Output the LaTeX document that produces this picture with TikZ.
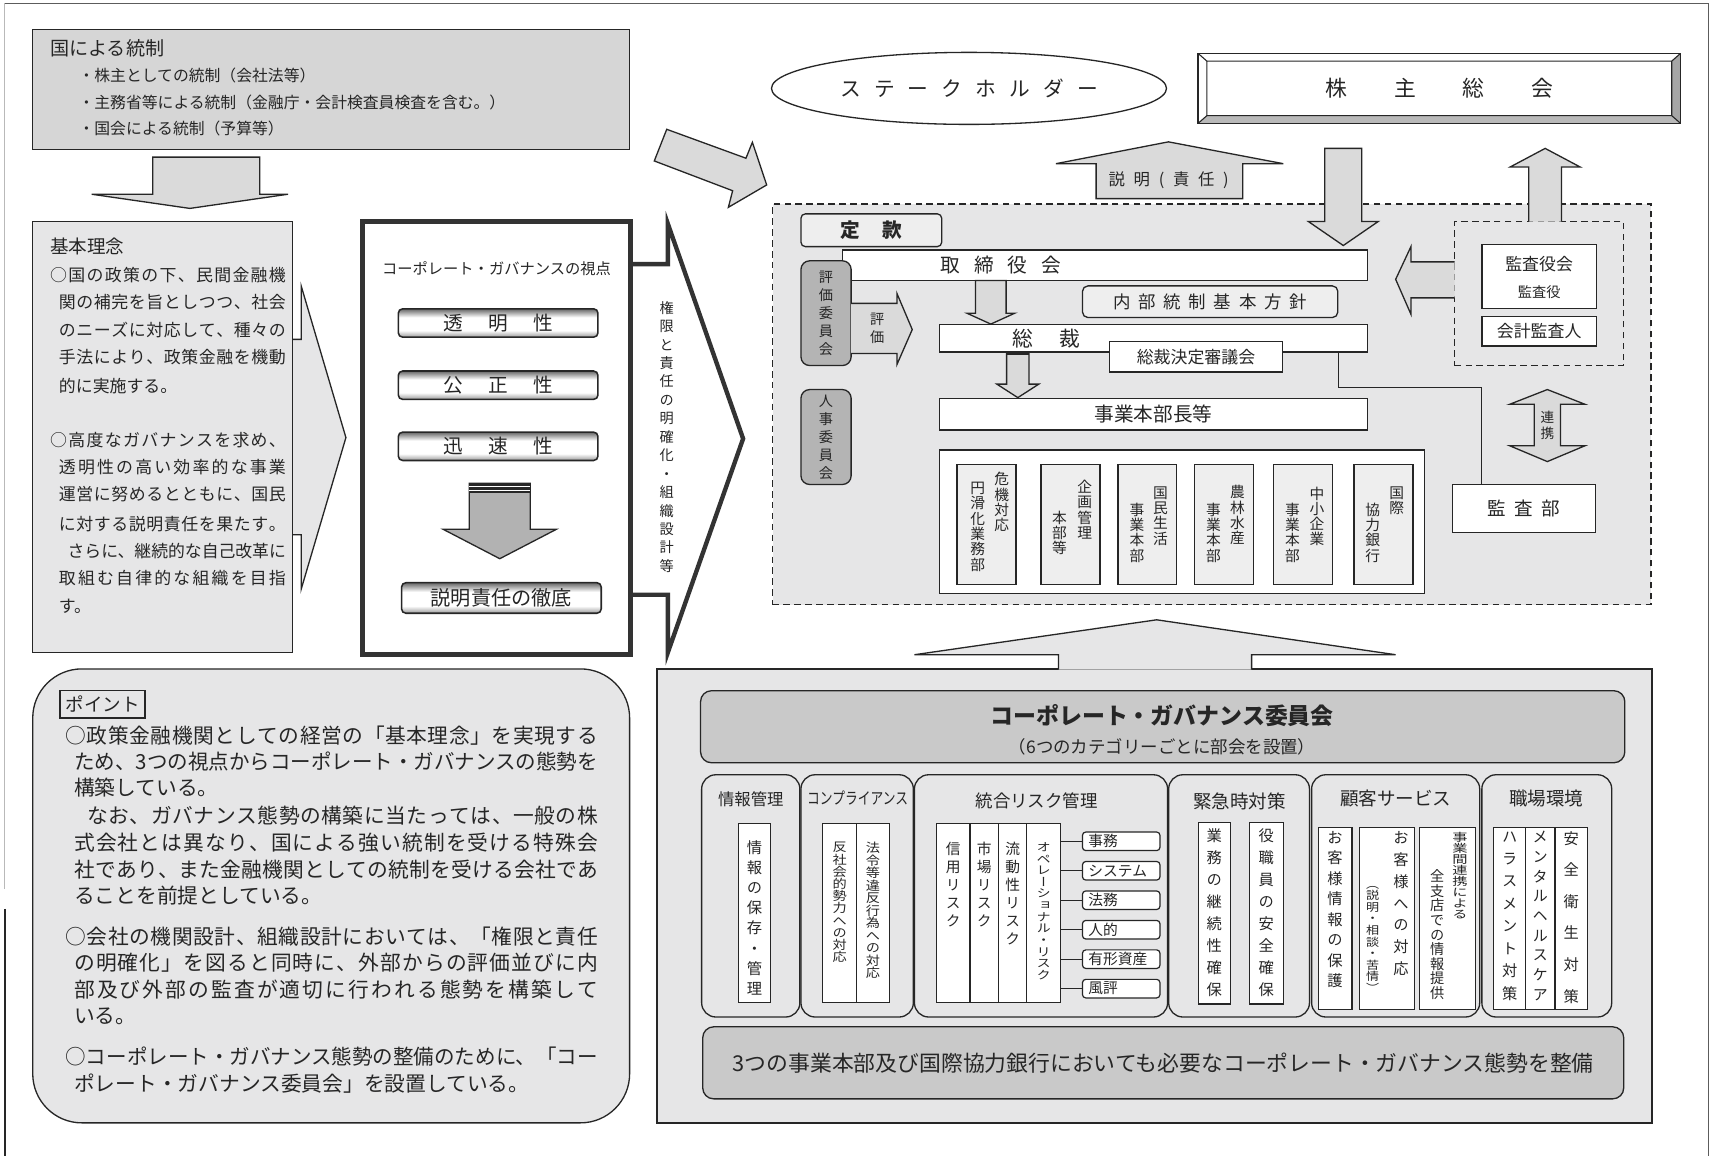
\documentclass[tikz,border=0pt]{standalone}
\usepackage{fontspec}
\setmainfont{Noto Sans CJK JP}
\newfontfamily\jpv[RawFeature=+vert]{Noto Sans CJK JP}
\usetikzlibrary{shapes.geometric}
\definecolor{ln}{HTML}{262626}
\definecolor{gA}{HTML}{D6D6D6}
\definecolor{gB}{HTML}{E6E6E7}
\definecolor{gC}{HTML}{C9C9C9}
\definecolor{gD}{HTML}{B4B4B4}
\definecolor{gE}{HTML}{DADADA}
\definecolor{gF}{HTML}{EEEEEE}
\pgfdeclareverticalshading{btnshade}{100bp}{color(0bp)=(black!40); color(25bp)=(black!40); color(37bp)=(white); color(60bp)=(white); color(75bp)=(black!60); color(100bp)=(black!60)}
\newcommand\fs[1]{\fontsize{#1}{#1}\selectfont}
\makeatletter
\def\Sp@end{}
\newcommand\Sp[2]{\def\Sp@gap{\hskip #1\relax}\Sp@loop#2\Sp@end}
\def\Sp@loop#1#2\Sp@end{#1\ifx\relax#2\relax\expandafter\@gobble\else\Sp@gap\expandafter\Sp@loop\fi#2\Sp@end}
\def\Vt@end{}
\newcommand\Vt[2]{\vbox{\baselineskip=#1\relax\lineskip=0pt\lineskiplimit=-100pt\jpv\Vt@loop#2\Vt@end}}
\def\Vt@loop#1#2\Vt@end{\hbox to 2em{\hss#1\hss}\ifx\relax#2\relax\expandafter\@gobble\else\expandafter\Vt@loop\fi#2\Vt@end}
\makeatother
\newsavebox\JlBox
\newcommand\Jl[2]{\sbox\JlBox{#2}\ifdim\wd\JlBox>#1\relax\resizebox{#1}{\height}{\usebox\JlBox}\else\makebox[#1][s]{\Sp{0pt plus 1fil}{#2}}\fi}
\newcommand\Bx[7]{\node[#1, minimum width={(#5)-(#3)}, minimum height={(#6)-(#4)}] (#2) at ({((#3)+(#5))/2},{((#4)+(#6))/2}) {#7};}
\newcommand\Ln[5]{\node[anchor=west, font=\fs{#4}] (#1) at (#2,#3) {#5};}
\newcommand\Vn[6]{\node[anchor=north, font=\fs{#4}] (#1) at (#2,#3) {\Vt{#5}{#6}};}
\begin{document}
\begin{tikzpicture}[x=1pt,y=-1pt,
  every node/.style={inner sep=0pt, outer sep=0pt, text=ln},
  bx/.style={draw=ln, line width=1.2pt, fill=white},
  arw/.style={draw=ln, line width=1.2pt, fill=gE, line join=miter},
  catbx/.style={draw=ln, line width=1.2pt, fill=gB, rounded corners=13pt},
  colbx/.style={draw=ln, line width=1.1pt, fill=white},
  riskbx/.style={draw=ln, line width=1.1pt, fill=white, rounded corners=3pt},
  btn/.style={draw=ln, line width=1.4pt, rounded corners=4pt, shading=btnshade},
  dsh/.style={draw=ln, line width=1.2pt, dash pattern=on 6pt off 4pt},
  sidebx/.style={draw=ln, line width=1.2pt, fill=gD, rounded corners=8pt},
  orgcol/.style={draw=ln, line width=1.1pt, fill=gF}]
\fill[white] (0,0) rectangle (1568,1059);
\useasboundingbox (0,0) rectangle (1568,1059);
% frame
\draw[gray!55, line width=0.8pt] (4.5,3) -- (4.5,815);
\draw[ln, line width=1.1pt] (4.5,833) -- (4.5,1059);
\draw[ln!75, line width=1pt] (4.5,3) -- (1566,3) -- (1566,1059);
% national control
\Bx{bx, fill=gA}{kuni}{30}{27}{577}{137}{}
\Ln{kuni0}{46}{44}{17.5}{国による統制}
\Ln{kuni1}{72}{69}{14.5}{・株主としての統制（会社法等）}
\Ln{kuni2}{72}{94}{14.5}{・主務省等による統制（金融庁・会計検査員検査を含む。）}
\Ln{kuni3}{72}{118}{14.5}{・国会による統制（予算等）}
\filldraw[arw] (140,144) -- (238,144) -- (238,178) -- (264,178) -- (174,191) -- (84,178) -- (140,178) -- cycle;
% basic philosophy
\filldraw[fill=gB, draw=ln, line width=1.2pt] (268,311) -- (276,311) -- (276,262) -- (317,401) -- (276,540) -- (276,490) -- (268,490);
\Bx{bx, fill=gB}{kihon}{30}{203}{268}{598}{}
\Ln{k0}{46}{226}{17}{基本理念}
\Ln{k1}{46}{252}{15.5}{\Jl{216pt}{○国の政策の下、民間金融機}}
\Ln{k2}{54}{277}{15.5}{\Jl{208pt}{関の補完を旨としつつ、社会}}
\Ln{k3}{54}{302}{15.5}{\Jl{208pt}{のニーズに対応して、種々の}}
\Ln{k4}{54}{327}{15.5}{\Jl{208pt}{手法により、政策金融を機動}}
\Ln{k5}{54}{354}{15.5}{的に実施する。}
\Ln{k6}{46}{403}{15.5}{\Jl{216pt}{○高度なガバナンスを求め、}}
\Ln{k7}{54}{428}{15.5}{\Jl{208pt}{透明性の高い効率的な事業}}
\Ln{k8}{54}{453}{15.5}{\Jl{208pt}{運営に努めるとともに、国民}}
\Ln{k9}{54}{480}{15.5}{\Jl{208pt}{に対する説明責任を果たす。}}
\Ln{k10}{62}{505}{15.5}{\Jl{200pt}{さらに、継続的な自己改革に}}
\Ln{k11}{54}{530}{15.5}{\Jl{208pt}{取組む自律的な組織を目指}}
\Ln{k12}{54}{556}{15.5}{す。}
% CG viewpoint
\draw[line width=4pt, draw=black!80, line join=miter] (578,242) -- (612,242) -- (612,205) -- (681,402) -- (612,598) -- (612,545) -- (578,545);
\Bx{draw=black!80, line width=4.5pt, fill=white}{cgv}{332}{203}{578}{600}{}
\node[font=\fs{14}] (cgvt) at (455,246) {コーポレート・ガバナンスの視点};
\Bx{btn, font=\fs{18}}{tomei}{365}{283}{548}{309}{\Sp{23pt}{透明性}}
\Bx{btn, font=\fs{18}}{kosei}{365}{340}{548}{366}{\Sp{23pt}{公正性}}
\Bx{btn, font=\fs{18}}{jinsoku}{365}{396}{548}{422}{\Sp{23pt}{迅速性}}
\filldraw[fill=black!30, draw=ln, line width=1.2pt] (430,443) -- (486,443) -- (486,485) -- (510,485) -- (458,512) -- (406,485) -- (430,485) -- cycle;
\fill[black!85] (430,443) rectangle (486,452);
\draw[white, line width=0.7pt] (430,446) -- (486,446) (430,449) -- (486,449);
\Bx{btn, font=\fs{18.5}}{tettei}{368}{534}{551}{562}{説明責任の徹底}
\node[font=\fs{13}, anchor=north] (kengen) at (611,276) {\Vt{16.9pt}{権限と責任の明確化・組織設計等}};
% point panel
\Bx{bx, fill=gB, rounded corners=45pt}{point}{30}{613}{577}{1029}{}
\Bx{bx, fill=gB, font=\fs{17}}{pointlbl}{55}{633}{133}{658}{ポイント}
\Ln{p1}{60}{674}{19}{\Jl{488pt}{○政策金融機関としての経営の「基本理念」を実現する}}
\Ln{p2}{68}{698}{19}{\Jl{480pt}{ため、3つの視点からコーポレート・ガバナンスの態勢を}}
\Ln{p3}{68}{722}{19}{構築している。}
\Ln{p4}{80}{747}{19}{\Jl{468pt}{なお、ガバナンス態勢の構築に当たっては、一般の株}}
\Ln{p5}{68}{772}{19}{\Jl{480pt}{式会社とは異なり、国による強い統制を受ける特殊会}}
\Ln{p6}{68}{797}{19}{\Jl{480pt}{社であり、また金融機関としての統制を受ける会社であ}}
\Ln{p7}{68}{821}{19}{ることを前提としている。}
\Ln{p8}{60}{858}{19}{\Jl{488pt}{○会社の機関設計、組織設計においては、「権限と責任}}
\Ln{p9}{68}{882}{19}{\Jl{480pt}{の明確化」を図ると同時に、外部からの評価並びに内}}
\Ln{p10}{68}{907}{19}{\Jl{480pt}{部及び外部の監査が適切に行われる態勢を構築して}}
\Ln{p11}{68}{931}{19}{いる。}
\Ln{p12}{60}{968}{19}{\Jl{488pt}{○コーポレート・ガバナンス態勢の整備のために、「コー}}
\Ln{p13}{68}{993}{19}{ポレート・ガバナンス委員会」を設置している。}
% diagonal arrow
\filldraw[arw] (611,118.5) -- (683.6,145) -- (689.5,130.4) -- (702.6,169.5) -- (667.5,190) -- (671.4,174.8) -- (599.6,147.5) -- cycle;
% stakeholders
\node[draw=ln, line width=1.2pt, ellipse, minimum width=362pt, minimum height=66pt, font=\fs{19}] (stake) at (888,81) {\Sp{12pt}{ステークホルダー}};
% shareholders meeting
\Bx{bx}{kabu}{1098}{49}{1540}{113}{}
\fill[gray!55] (1098,113) -- (1540,113) -- (1532,106) -- (1106,106) -- cycle;
\fill[gray!70] (1540,49) -- (1540,113) -- (1532,106) -- (1532,56) -- cycle;
\draw[ln, line width=1.2pt] (1098,49) rectangle (1540,113);
\draw[ln, line width=1pt] (1106,56) rectangle (1532,106) (1098,49) -- (1106,56) (1540,49) -- (1532,56) (1098,113) -- (1106,106) (1540,113) -- (1532,106);
\node[font=\fs{20}] (kabut) at (1319,81) {\Sp{43pt}{株主総会}};
% explanation arrow
\filldraw[arw] (1004.5,182) -- (1004.5,150) -- (967.7,150) -- (1070.8,130) -- (1176,150) -- (1138.8,150) -- (1138.8,182) -- cycle;
\node[font=\fs{15}] (setsumei) at (1071,165) {\Sp{8pt}{説明(責任)}};
% organisation region
\Bx{dsh, fill=gB}{org}{708}{187}{1513}{554}{}
\filldraw[arw] (1214,136) -- (1248,136) -- (1248,203) -- (1263,203) -- (1231,225) -- (1199,203) -- (1214,203) -- cycle;
\Bx{dsh}{kansaarea}{1333}{203}{1488}{335}{}
\filldraw[arw] (1401,203) -- (1401,153) -- (1384,153) -- (1416,136) -- (1448,153) -- (1431,153) -- (1431,203);
\Bx{bx, fill=gF, rounded corners=4pt, font=\fs{18}\bfseries}{teikan}{734}{196}{863}{226}{\Sp{20pt}{定款}}
\Bx{bx}{torishimari}{772}{229}{1253}{257}{}
\Ln{torit}{862}{243}{18}{\Sp{12.8pt}{取締役会}}
\Bx{sidebx, font=\fs{13}}{hyoka}{734}{239}{780}{335}{\Vt{16.5pt}{評価委員会}}
\filldraw[arw] (780,278) -- (822,278) -- (822,269) -- (836,302) -- (822,334) -- (822,324) -- (780,324);
\node[font=\fs{13}] (hyokat) at (804,301) {\Vt{17pt}{評価}};
\Bx{sidebx, font=\fs{13}}{jinji}{734}{357}{780}{444}{\Vt{16.5pt}{人事委員会}}
\filldraw[arw] (894,257) -- (922,257) -- (922,287) -- (930,287) -- (908,297) -- (886,287) -- (894,287) -- cycle;
\Bx{bx, fill=gF, rounded corners=5pt, font=\fs{16}}{naibu}{992}{262}{1226}{291}{\Sp{7pt}{内部統制基本方針}}
\Bx{bx}{sosai}{861}{297.5}{1253}{322.7}{}
\node[font=\fs{19}] (sosait) at (959,310.5) {\Sp{24pt}{総裁}};
\Bx{bx, font=\fs{15.5}}{shingi}{1017}{313}{1175}{341}{総裁決定審議会}
\filldraw[arw] (922.5,322.7) -- (943,322.7) -- (943,352) -- (952,352) -- (932.75,364.4) -- (913.5,352) -- (922.5,352) -- cycle;
\draw[ln, line width=3pt] (922.5,324) -- (943,324);
\Bx{bx, font=\fs{18}}{jigyo}{861}{365}{1253}{394}{事業本部長等}
\Bx{bx}{honbu}{861}{412.5}{1305.5}{544}{}
\Bx{orgcol}{c1}{877}{426}{931}{536}{}
\Vn{c1a}{918}{433}{13.5}{14pt}{危機対応}
\Vn{c1b}{896}{442}{13.5}{14pt}{円滑化業務部}
\Bx{orgcol}{c2}{954}{426}{1008}{536}{}
\Vn{c2a}{994}{440}{13.5}{14pt}{企画管理}
\Vn{c2b}{971}{468}{13.5}{14pt}{本部等}
\Bx{orgcol}{c3}{1024.5}{426}{1078.5}{536}{}
\Vn{c3a}{1063.5}{446}{13.5}{14pt}{国民生活}
\Vn{c3b}{1042}{461}{13.5}{14pt}{事業本部}
\Bx{orgcol}{c4}{1094.7}{426}{1148.8}{536}{}
\Vn{c4a}{1134}{445}{13.5}{14pt}{農林水産}
\Vn{c4b}{1112}{461}{13.5}{14pt}{事業本部}
\Bx{orgcol}{c5}{1167}{426}{1221}{536}{}
\Vn{c5a}{1206.8}{446}{13.5}{14pt}{中小企業}
\Vn{c5b}{1184.5}{461}{13.5}{14pt}{事業本部}
\Bx{orgcol}{c6}{1240.8}{426}{1294.9}{536}{}
\Vn{c6a}{1280}{446}{13.5}{14pt}{国際}
\Vn{c6b}{1258}{461}{13.5}{14pt}{協力銀行}
\Bx{bx}{kansayaku}{1358}{224}{1463}{283}{}
\node[font=\fs{15.5}] (kansayakut) at (1410.5,242) {監査役会};
\node[font=\fs{13}] (kansayakut2) at (1410.5,268) {監査役};
\Bx{bx, font=\fs{15.5}}{kaikei}{1358}{290}{1463}{317}{会計監査人}
\filldraw[arw] (1333,240) -- (1293,240) -- (1293,226) -- (1279,256) -- (1293,288) -- (1293,273) -- (1333,273);
\filldraw[arw] (1418,357) -- (1452.5,370.5) -- (1430,370.5) -- (1430,408.5) -- (1452.5,408.5) -- (1418,423) -- (1383.5,408.5) -- (1406,408.5) -- (1406,370.5) -- (1383.5,370.5) -- cycle;
\node[font=\fs{12.5}] (renkei) at (1418,390) {\Vt{15pt}{連携}};
\Bx{bx, font=\fs{17}}{kansabu}{1331}{444}{1462}{488}{\Sp{8pt}{監査部}}
\draw[ln, line width=1pt] (sosai.south -| 1227,0) |- (1358,355) -- (1358,0 |- kansabu.north);
% CG committee panel
\Bx{bx, fill=gB}{cgp}{602}{613}{1514}{1029}{}
\filldraw[fill=gB, draw=ln, line width=1.2pt] (970,613.6) -- (970,600) -- (838,600) -- (1060,568) -- (1279,600) -- (1147,600) -- (1147,613.6);
\Bx{bx, fill=gC, rounded corners=10pt}{cgc}{642}{633}{1489}{699}{}
\node[font=\fs{21}\bfseries] (cgct) at (1065,656) {コーポレート・ガバナンス委員会};
\node[font=\fs{16}] (cgcs) at (1065,684) {（6つのカテゴリーごとに部会を設置）};
\Bx{catbx}{kc1}{643}{710}{733}{932}{}
\Bx{catbx}{kc2}{734}{710}{837}{932}{}
\Bx{catbx}{kc3}{838}{710}{1070}{932}{}
\Bx{catbx}{kc4}{1071}{710}{1200}{932}{}
\Bx{catbx}{kc5}{1202}{710}{1356}{932}{}
\Bx{catbx}{kc6}{1358}{710}{1477}{932}{}
\node[font=\fs{15}] (kc1t) at (688,732) {情報管理};
\node[font=\fs{15}] (kc2t) at (786,731) {\scalebox{0.78}[1]{コンプライアンス}};
\node[font=\fs{16}] (kc3t) at (950,734) {統合リスク管理};
\node[font=\fs{17}] (kc4t) at (1136,734) {緊急時対策};
\node[font=\fs{17}] (kc5t) at (1279,732) {顧客サービス};
\node[font=\fs{17}] (kc6t) at (1417,732) {職場環境};
\Bx{colbx}{kc1c}{677}{755}{706}{919}{}
\Vn{kc1ct}{691.5}{770}{14}{18.5pt}{情報の保存・管理}
\Bx{colbx}{kc2c1}{754}{755}{785}{919}{}
\Bx{colbx}{kc2c2}{785}{755}{815}{919}{}
\node[anchor=north, font=\fs{13}] (kc2t1) at (769.5,772) {\scalebox{1}[0.86]{\Vt{13pt}{反社会的勢力への対応}}};
\node[anchor=north, font=\fs{13}] (kc2t2) at (800,772) {\scalebox{1}[0.88]{\Vt{13pt}{法令等違反行為への対応}}};
\Bx{colbx}{kc3c1}{858}{755}{889}{919}{}
\Bx{colbx}{kc3c2}{889}{755}{915}{919}{}
\Bx{colbx}{kc3c3}{915}{755}{941}{919}{}
\Bx{colbx}{ops}{941}{755}{972}{919}{}
\Vn{kc3t1}{873.5}{772}{13.5}{16.5pt}{信用リスク}
\Vn{kc3t2}{902}{772}{13.5}{16.5pt}{市場リスク}
\Vn{kc3t3}{928}{772}{13.5}{16.5pt}{流動性リスク}
\node[anchor=north, font=\fs{13}] (kc3t4) at (956.5,772) {\scalebox{1}[0.82]{\Vt{13pt}{オペレーショナル・リスク}}};
\Bx{riskbx, font=\fs{13.5}}{r1}{992}{762.5}{1063}{779.5}{\makebox[60pt][l]{事務}}
\Bx{riskbx, font=\fs{13.5}}{r2}{992}{789.5}{1063}{806.5}{\makebox[60pt][l]{システム}}
\Bx{riskbx, font=\fs{13.5}}{r3}{992}{816.5}{1063}{833.5}{\makebox[60pt][l]{法務}}
\Bx{riskbx, font=\fs{13.5}}{r4}{992}{843.5}{1063}{860.5}{\makebox[60pt][l]{人的}}
\Bx{riskbx, font=\fs{13.5}}{r5}{992}{870.5}{1063}{887.5}{\makebox[60pt][l]{有形資産}}
\Bx{riskbx, font=\fs{13.5}}{r6}{992}{897.5}{1063}{914.5}{\makebox[60pt][l]{風評}}
\foreach \rr in {r1,r2,r3,r4,r5,r6} \draw[ln, line width=1.1pt] (ops.east |- \rr.west) -- (\rr.west);
\Bx{colbx}{kc4c1}{1098}{754}{1127.5}{920}{}
\Bx{colbx}{kc4c2}{1145}{754}{1176}{920}{}
\Vn{kc4t1}{1112.7}{759}{14}{20.2pt}{業務の継続性確保}
\Vn{kc4t2}{1160.5}{759}{14}{20.2pt}{役職員の安全確保}
\Bx{colbx}{kc5c1}{1208}{758}{1239}{925}{}
\Bx{colbx}{kc5c2}{1246}{758}{1296}{925}{}
\Bx{colbx}{kc5c3}{1301}{758}{1352}{925}{}
\Vn{kc5t1}{1223.5}{762}{14}{18.7pt}{お客様情報の保護}
\Vn{kc5t2}{1284}{762}{14}{20pt}{お客様への対応}
\node[anchor=north, font=\fs{12}] (kc5t3) at (1258,812) {\scalebox{1}[0.85]{\Vt{12.5pt}{（説明・相談・苦情）}}};
\node[anchor=north, font=\fs{14}] (kc5t4) at (1338,763) {\scalebox{1}[0.72]{\Vt{14pt}{事業間連携による}}};
\Vn{kc5t5}{1317}{797}{13}{13.4pt}{全支店での情報提供}
\Bx{colbx}{kc6c1}{1369}{758}{1398}{925}{}
\Bx{colbx}{kc6c2}{1398}{758}{1425}{925}{}
\Bx{colbx}{kc6c3}{1425}{758}{1455}{925}{}
\Vn{kc6t1}{1383.5}{762}{14}{20.6pt}{ハラスメント対策}
\Vn{kc6t2}{1411.5}{762}{14}{18pt}{メンタルヘルスケア}
\Vn{kc6t3}{1440}{762}{14}{28.9pt}{安全衛生対策}
\Bx{bx, fill=gC, rounded corners=10pt, font=\fs{20}}{bottombar}{644}{941}{1488}{1007}{3つの事業本部及び国際協力銀行においても必要なコーポレート・ガバナンス態勢を整備}
\end{tikzpicture}
\end{document}
